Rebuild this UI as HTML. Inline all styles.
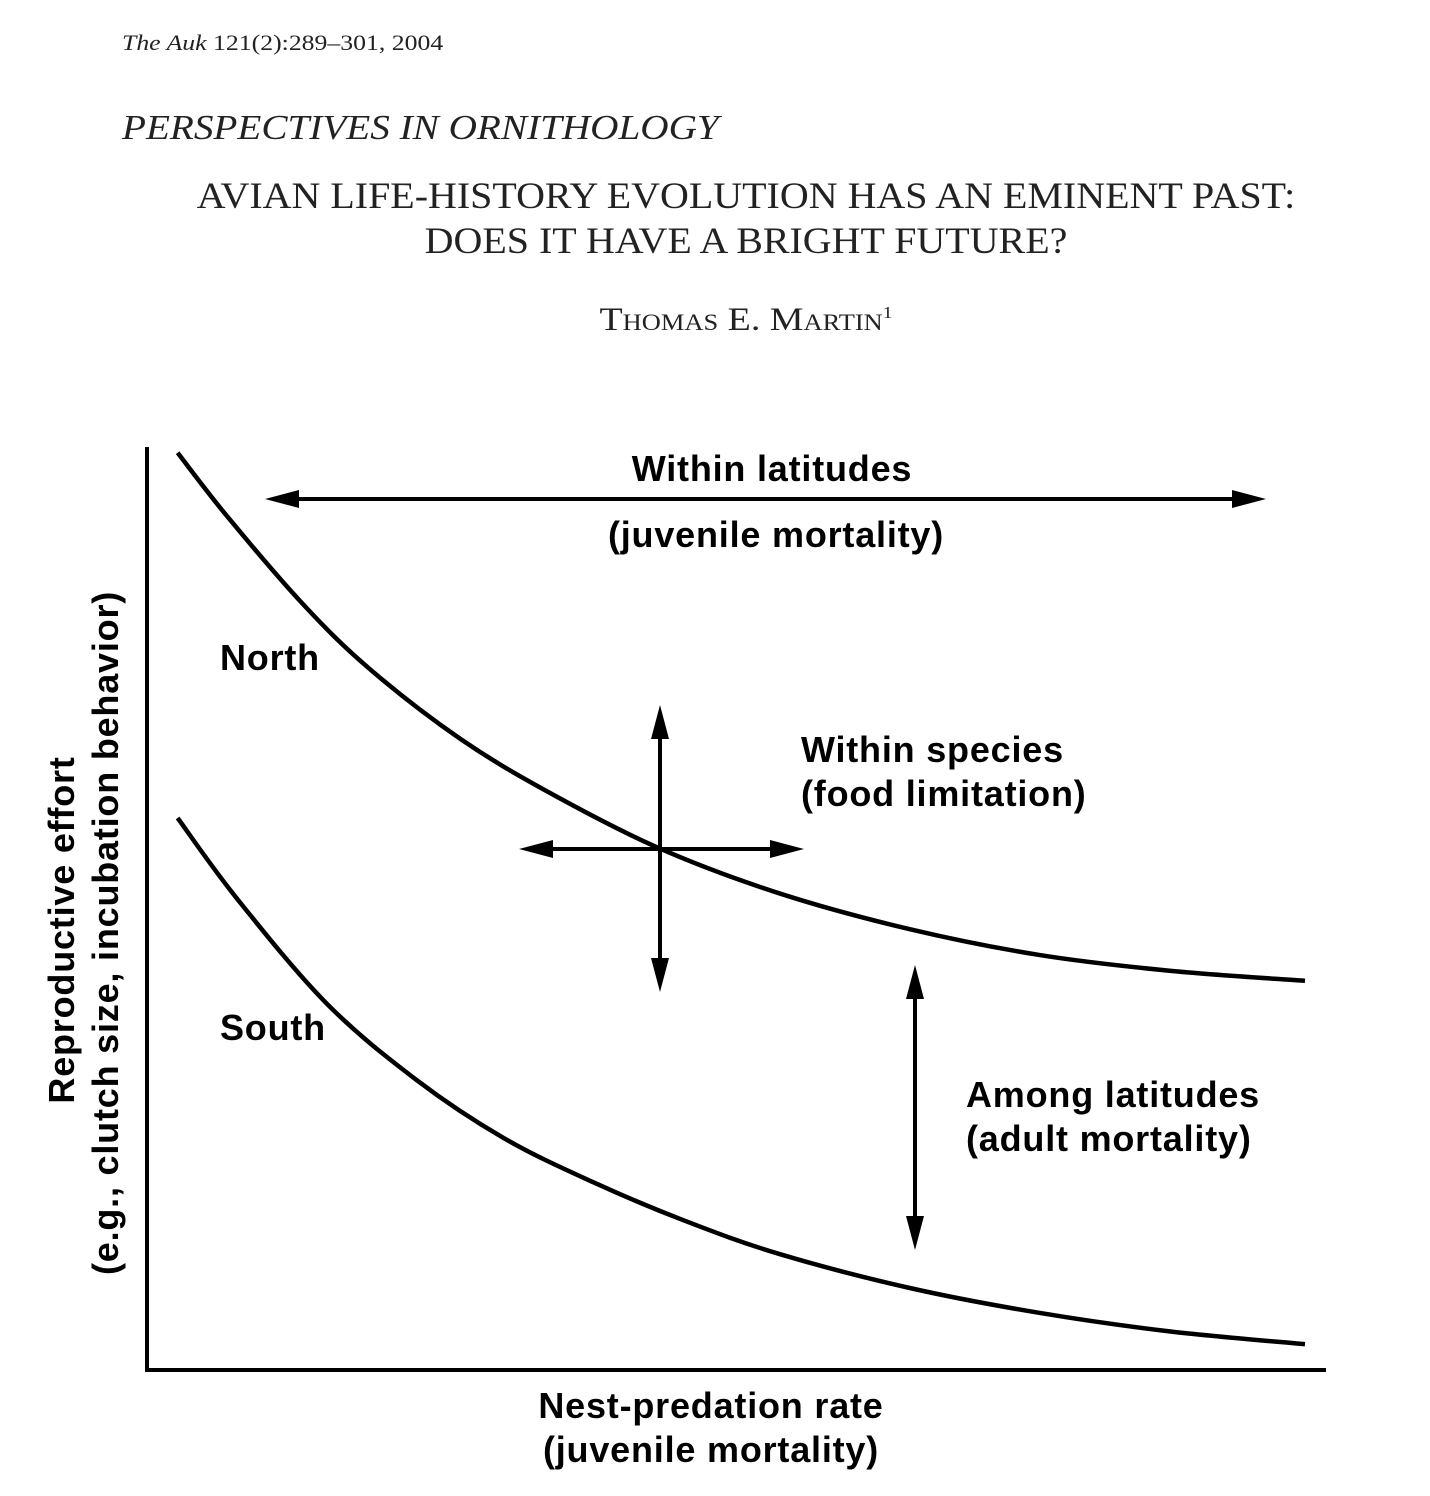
<!DOCTYPE html>
<html><head><meta charset="utf-8"><style>
html,body{margin:0;padding:0;background:#fff;}
body{width:1430px;height:1496px;position:relative;overflow:hidden;}
.serif{font-family:"Liberation Serif",serif;color:#222;position:absolute;white-space:nowrap;}
</style></head><body>
<div class="serif" style="left:122px;top:30px;font-size:22px;transform:scaleX(1.17);transform-origin:0 0;"><i>The Auk</i> 121(2):289–301, 2004</div>
<div class="serif" style="left:122px;top:108px;font-size:35px;font-style:italic;transform:scaleX(1.12);transform-origin:0 0;">PERSPECTIVES IN ORNITHOLOGY</div>
<div class="serif" style="left:0;width:1492px;top:174px;font-size:37px;text-align:center;line-height:45px;transform:scaleX(1.08);transform-origin:746px 0;">AVIAN LIFE-HISTORY EVOLUTION HAS AN EMINENT PAST:<br>DOES IT HAVE A BRIGHT FUTURE?</div>
<div class="serif" style="left:0;width:1492px;top:302px;font-size:33px;text-align:center;font-variant:small-caps;transform:scaleX(1.15);transform-origin:746px 0;">Thomas E. Martin<sup style="font-size:17px;">1</sup></div>
<svg id="chart" width="1430" height="1496" style="position:absolute;left:0;top:0">
<g id="plot" font-family="Liberation Sans, sans-serif" font-weight="bold" fill="#000"></g>
</svg>
<script>
const northX=[2.6,6.8,13.2,18.9,26.6,34.1,43.5,53.7,64.8,75.8,86.8,98.3];
const northY=[99.7,92.8,83.3,76.2,68.6,62.8,56.7,51.8,47.9,45.1,43.4,42.3];
const southX=[2.6,7.6,15.2,22.8,30.3,37.9,45.5,53.7,64.8,75.8,86.8,98.3];
const southY=[60.0,51.3,39.9,31.6,25.2,20.4,16.3,12.6,8.9,6.2,4.2,2.8];
const labels=["North","South"];
function xScale(v){return 147+v*(1325-147)/100;}
function yScale(v){return 1370-v*(1370-450)/100;}
const NS="http://www.w3.org/2000/svg";
const g=document.getElementById('plot');
function mk(t,a){const e=document.createElementNS(NS,t);for(const k in a)e.setAttribute(k,a[k]);g.appendChild(e);return e;}
function curve(xs,ys){
 const p=xs.map((x,i)=>[xScale(x),yScale(ys[i])]);
 let d="M"+p[0][0]+","+p[0][1];
 for(let i=0;i<p.length-1;i++){
  const p0=p[Math.max(0,i-1)],p1=p[i],p2=p[i+1],p3=p[Math.min(p.length-1,i+2)];
  d+=" C"+(p1[0]+(p2[0]-p0[0])/6)+","+(p1[1]+(p2[1]-p0[1])/6)+" "+(p2[0]-(p3[0]-p1[0])/6)+","+(p2[1]-(p3[1]-p1[1])/6)+" "+p2[0]+","+p2[1];
 }
 return d;
}
let e=mk('path',{d:"M147,447 L147,1370 L1326,1370",fill:"none",stroke:"#000","stroke-width":4});


e=mk('path',{d:curve(northX,northY),fill:"none",stroke:"#000","stroke-width":4.5});


e=mk('path',{d:curve(southX,southY),fill:"none",stroke:"#000","stroke-width":4.5});


function arrow(x1,y1,x2,y2,name){
 const gg=document.createElementNS(NS,'g');g.appendChild(gg);
 
 
 const l=document.createElementNS(NS,'line');
 const dx=x2-x1,dy=y2-y1,L=Math.hypot(dx,dy),ux=dx/L,uy=dy/L,h=34,w=9;
 l.setAttribute('x1',x1+ux*h*0.8);l.setAttribute('y1',y1+uy*h*0.8);l.setAttribute('x2',x2-ux*h*0.8);l.setAttribute('y2',y2-uy*h*0.8);
 l.setAttribute('stroke','#000');l.setAttribute('stroke-width',4);gg.appendChild(l);
 [[x1,y1,-1],[x2,y2,1]].forEach(([x,y,s])=>{
  const bx=x-s*ux*h,by=y-s*uy*h;
  const p=document.createElementNS(NS,'polygon');
  p.setAttribute('points',`${x},${y} ${bx-uy*w},${by+ux*w} ${bx+uy*w},${by-ux*w}`);
  gg.appendChild(p);
 });
}
arrow(265,499,1266,499,'within-latitudes-arrow');
arrow(519,849,804,849,'within-species-horizontal-arrow');
arrow(660,705,660,992,'within-species-vertical-arrow');
arrow(915,965,915,1250,'among-latitudes-arrow');
function text(x,y,s,name,anchor,extra){
 const t=mk('text',Object.assign({x:x,y:y,'font-size':36,'letter-spacing':0.8,'text-anchor':anchor||'start'},extra||{}));
 t.textContent=s;
 
 
 return t;
}
text(772,481,"Within latitudes",'within-latitudes-label','middle');
text(776,547,"(juvenile mortality)",'within-latitudes-sublabel','middle');
text(220,670,labels[0],'north-label');
text(220,1040,labels[1],'south-label');
text(801,762,"Within species",'within-species-label');
text(801,806,"(food limitation)",'within-species-sublabel');
text(966,1107,"Among latitudes",'among-latitudes-label');
text(966,1151,"(adult mortality)",'among-latitudes-sublabel');
text(711,1418,"Nest-predation rate",'x-axis-title','middle');
text(711,1462,"(juvenile mortality)",'x-axis-subtitle','middle');
text(0,0,"Reproductive effort",'y-axis-title','middle',{transform:"translate(74,930) rotate(-90)"});
text(0,0,"(e.g., clutch size, incubation behavior)",'y-axis-subtitle','middle',{transform:"translate(118,933) rotate(-90)"});
</script>
</body></html>
